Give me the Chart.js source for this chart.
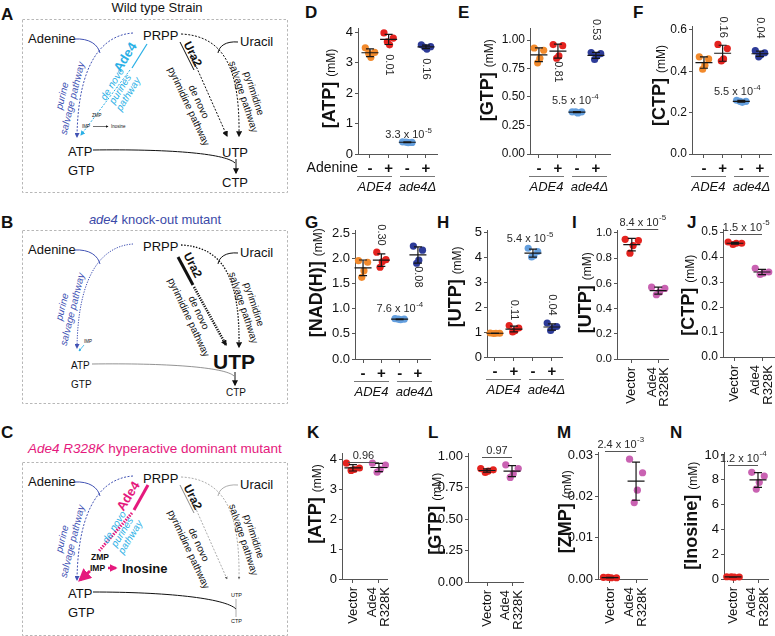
<!DOCTYPE html>
<html>
<head>
<meta charset="utf-8">
<title>Ade4 nucleotide panels</title>
<script src="https://cdn.jsdelivr.net/npm/chart.js@4.4.1/dist/chart.umd.min.js"></script>
<style>
  html, body { margin: 0; padding: 0; background: #fff; }
  body { position: relative; width: 775px; height: 636px; overflow: hidden; font-family: "Liberation Sans", Arial, sans-serif; }
  canvas { position: absolute; }
  #schem { position: absolute; left: 0; top: 0; }
</style>
</head>
<body>
<svg id="schem" width="775" height="636" xmlns="http://www.w3.org/2000/svg"></svg>
<script>
const FF = '"Liberation Sans", Arial, Helvetica, sans-serif';
Chart.defaults.font.family = FF;

// ---------------- data ----------------
const signs = ['-', '+', '-', '+'];
const pairCats = ['Vector', ['Ade4', 'R328K']];
const strainGroups = ['ADE4', 'ade4Δ'];

const ticksD = ['0', '1', '2', '3', '4'];
const ticksE = ['0.00', '0.25', '0.50', '0.75', '1.00'];
const ticksF = ['0.0', '0.2', '0.4', '0.6'];
const ticksG = ['0.0', '0.5', '1.0', '1.5', '2.0', '2.5'];
const ticksH = ['0', '1', '2', '3', '4', '5'];
const ticksI = ['0.0', '0.2', '0.4', '0.6', '0.8', '1.0'];
const ticksJ = ['0.0', '0.1', '0.2', '0.3', '0.4', '0.5'];
const ticksK = ['0', '1', '2', '3', '4'];
const ticksL = ['0.00', '0.25', '0.50', '0.75', '1.00'];
const ticksM = ['0.00', '0.01', '0.02', '0.03'];
const ticksN = ['0', '2', '4', '6', '8', '10'];

// mM, 4 replicates per group
const atpD = [[3.48, 3.33, 3.17, 3.30], [3.97, 3.80, 3.58, 3.68], [0.40, 0.38, 0.37, 0.39], [3.58, 3.52, 3.44, 3.50]];
const gtpE = [[0.93, 0.91, 0.84, 0.80], [0.96, 0.95, 0.86, 0.84], [0.37, 0.37, 0.36, 0.37], [0.89, 0.88, 0.86, 0.83]];
const ctpF = [[0.47, 0.46, 0.43, 0.41], [0.53, 0.51, 0.46, 0.45], [0.26, 0.255, 0.25, 0.255], [0.50, 0.49, 0.48, 0.47]];
const nadG = [[1.95, 1.92, 1.75, 1.62], [2.12, 1.97, 1.93, 1.82], [0.80, 0.79, 0.78, 0.79], [2.24, 2.16, 1.96, 1.90]];
const utpH = [[0.96, 0.95, 0.95, 0.94], [1.26, 1.16, 1.05, 1.00], [4.35, 4.22, 4.05, 4.00], [1.36, 1.22, 1.16, 1.06]];
const utpI = [[0.95, 0.94, 0.90, 0.84], [0.57, 0.56, 0.53, 0.51]];
const ctpJ = [[0.46, 0.455, 0.455, 0.45], [0.355, 0.34, 0.335, 0.33]];
const atpK = [[3.86, 3.70, 3.65, 3.62], [3.86, 3.80, 3.65, 3.56]];
const gtpL = [[0.90, 0.89, 0.88, 0.87], [0.93, 0.90, 0.86, 0.83]];
const zmpM = [[0.0004, 0.0003, 0.0003, 0.0004], [0.029, 0.0257, 0.0215, 0.0185]];
const inoN = [[0.18, 0.16, 0.15, 0.17], [8.6, 8.3, 7.8, 7.25]];

const pD = ['0.01', '0.16', '3.3 x 10^-5'];
const pE = ['0.81', '0.53', '5.5 x 10^-4'];
const pF = ['0.16', '0.04', '5.5 x 10^-4'];
const pG = ['0.30', '0.08', '7.6 x 10^-4'];
const pH = ['0.11', '0.04', '5.4 x 10^-5'];
const pI = '8.4 x 10^-5', pJ = '1.5 x 10^-5', pK = '0.96', pL = '0.97', pM = '2.4 x 10^-3', pN = '1.2 x 10^-4';

// ---------------- styles ----------------
const wtCols = ['#f28a2c', '#e4231f', '#649fde', '#2d3b98'];
const pairCols = ['#e4231f', '#c962b2'];
const jitter = [-0.25, 0.25, 0.05, -0.07];

// panel layout (pixel anchors measured on the figure)
const panels = [
  { values: atpD, cats: signs, colors: wtCols, yTicks: ticksD, title: '[ATP]', ax: 358, ex: 437, yTickPx: 32, yBot: 154, ymax: 4.1, xmin: -0.64, xmax: 3.59, tx: 23, ty: -3, tf: 13,
    groups: true, adenine: true, notes: [{ t: pD[0], x: 1, y: 2.92, r: 1 }, { t: pD[1], x: 3, y: 2.79, r: 1 }, { t: pD[2], x: 2.06, y: 0.62 }] },
  { values: gtpE, cats: signs, colors: wtCols, yTicks: ticksE, title: '[GTP]', ax: 530, ex: 610, yTickPx: 40, yBot: 154, ymax: 1.1, xmin: -0.47, xmax: 3.74, tx: 37, ty: -11, tf: 12,
    groups: true, notes: [{ t: pE[0], x: 1, y: 0.72, r: 1 }, { t: pE[1], x: 3, y: 1.09, r: 1 }, { t: pE[2], x: 1.9, y: 0.465 }] },
  { values: ctpF, cats: signs, colors: wtCols, yTicks: ticksF, title: '[CTP]', ax: 692, ex: 771, yTickPx: 30, yBot: 154, ymax: 0.615, xmin: -0.64, xmax: 3.59, tx: 27, ty: -5, tf: 12,
    groups: true, notes: [{ t: pF[0], x: 1, y: 0.614, r: 1 }, { t: pF[1], x: 3, y: 0.61, r: 1 }, { t: pF[2], x: 1.77, y: 0.30 }] },
  { values: nadG, cats: signs, colors: wtCols, yTicks: ticksG, title: '[NAD(H)]', ax: 355, ex: 430, yTickPx: 233, yBot: 359, ymax: 2.55, xmin: -0.44, xmax: 3.66, tx: 33, ty: -12, tf: 13,
    groups: true, notes: [{ t: pG[0], x: 1, y: 2.46, r: 1 }, { t: pG[1], x: 3, y: 1.63, r: 1 }, { t: pG[2], x: 2.0, y: 0.99 }] },
  { values: utpH, cats: signs, colors: wtCols, yTicks: ticksH, title: '[UTP]', ax: 487, ex: 562, yTickPx: 232, yBot: 357, ymax: 5.05, xmin: -0.42, xmax: 3.53, tx: 26, ty: -7, tf: 13,
    groups: true, notes: [{ t: pH[0], x: 1, y: 1.88, r: 1 }, { t: pH[1], x: 3, y: 2.08, r: 1 }, { t: pH[2], x: 1.84, y: 4.72 }] },
  { values: utpI, cats: pairCats, colors: pairCols, yTicks: ticksI, title: '[UTP]', ax: 617, ex: 668, yTickPx: 233, yBot: 359, ymax: 1.02, xmin: -0.56, xmax: 1.37, tx: 26, ty: -2, tf: 11.5,
    bracket: { t: pI, y: 1.03 } },
  { values: ctpJ, cats: pairCats, colors: pairCols, yTicks: ticksJ, title: '[CTP]', ax: 723, ex: 775, yTickPx: 232, yBot: 357, ymax: 0.51, xmin: -0.44, xmax: 1.48, tx: 29, ty: 2, tf: 12,
    bracket: { t: pJ, y: 0.492 } },
  { values: atpK, cats: pairCats, colors: pairCols, yTicks: ticksK, title: '[ATP]', ax: 342, ex: 387, yTickPx: 459, yBot: 579, ymax: 4.2, xmin: -0.42, xmax: 1.31, tx: 21, ty: -12, tf: 13,
    bracket: { t: pK, y: 3.9 } },
  { values: gtpL, cats: pairCats, colors: pairCols, yTicks: ticksL, title: '[GTP]', ax: 468, ex: 523, yTickPx: 456, yBot: 582, ymax: 1.02, xmin: -0.76, xmax: 1.44, tx: 27, ty: -4, tf: 13,
    bracket: { t: pL, y: 0.99 } },
  { values: zmpM, cats: pairCats, colors: pairCols, yTicks: ticksM, title: '[ZMP]', ax: 598, ex: 647, yTickPx: 455, yBot: 579, ymax: 0.0306, xmin: -0.46, xmax: 1.42, tx: 27, ty: -4, tf: 13,
    bracket: { t: pM, y: 0.031 } },
  { values: inoN, cats: pairCats, colors: pairCols, yTicks: ticksN, title: '[Inosine]', ax: 724, ex: 768, yTickPx: 455, yBot: 579, ymax: 10.2, xmin: -0.36, xmax: 1.4, tx: 27, ty: 0, tf: 13,
    bracket: { t: pN, y: 9.2 } }
];

// text with a superscript part after '^', centred on (x, y)
function sci(ctx, s, x, y, size) {
  const parts = s.split('^');
  ctx.font = size + 'px ' + FF;
  const wb = ctx.measureText(parts[0]).width;
  let we = 0;
  if (parts[1]) { ctx.font = (size * 0.72) + 'px ' + FF; we = ctx.measureText(parts[1]).width; }
  const x0 = x - (wb + we) / 2;
  ctx.textAlign = 'left'; ctx.textBaseline = 'middle'; ctx.fillStyle = '#2a2a2a';
  ctx.font = size + 'px ' + FF;
  ctx.fillText(parts[0], x0, y);
  if (parts[1]) { ctx.font = (size * 0.72) + 'px ' + FF; ctx.fillText(parts[1], x0 + wb + 0.5, y - size * 0.4); }
}

function makePanel(p) {
  const padL = 70, padT = 34, padB = 72, padR = 6;
  const lastTick = parseFloat(p.yTicks[p.yTicks.length - 1]);
  const yTop = p.yBot - (p.yBot - p.yTickPx) * p.ymax / lastTick;
  const left = p.ax - padL, top = Math.round(yTop - padT);
  const W = p.ex + padR - left, H = p.yBot + padB - top;
  const cv = document.createElement('canvas');
  cv.width = W; cv.height = H;
  cv.style.left = left + 'px'; cv.style.top = top + 'px';
  cv.style.width = W + 'px'; cv.style.height = H + 'px';
  document.body.appendChild(cv);
  const rot = !p.groups;

  const deco = {
    id: 'deco',
    afterDatasetsDraw(chart) {
      const ctx = chart.ctx, xs = chart.scales.x, ys = chart.scales.y, ca = chart.chartArea;
      ctx.save();
      // mean +/- SD
      p.values.forEach((vals, i) => {
        const m = vals.reduce((a, b) => a + b, 0) / vals.length;
        const sd = Math.sqrt(vals.reduce((a, b) => a + (b - m) * (b - m), 0) / (vals.length - 1));
        const cx = xs.getPixelForValue(i);
        const ym = ys.getPixelForValue(m), y1 = ys.getPixelForValue(m + sd), y0 = ys.getPixelForValue(Math.max(0, m - sd));
        ctx.strokeStyle = '#161616'; ctx.lineWidth = 1.2;
        ctx.beginPath();
        ctx.moveTo(cx - 8.5, ym); ctx.lineTo(cx + 8.5, ym);
        ctx.moveTo(cx, y1); ctx.lineTo(cx, y0);
        ctx.moveTo(cx - 4, y1); ctx.lineTo(cx + 4, y1);
        ctx.moveTo(cx - 4, y0); ctx.lineTo(cx + 4, y0);
        ctx.stroke();
      });
      // y title: bold name + small unit
      ctx.save();
      ctx.translate(ca.left - p.tx, (ca.top + ca.bottom) / 2 + p.ty);
      ctx.rotate(-Math.PI / 2);
      ctx.font = 'bold 18px ' + FF; const w1 = ctx.measureText(p.title).width;
      ctx.font = '12px ' + FF; const w2 = ctx.measureText('(mM)').width;
      const gap = 5, x0 = -(w1 + gap + w2) / 2;
      ctx.textAlign = 'left'; ctx.textBaseline = 'alphabetic'; ctx.fillStyle = '#111';
      ctx.font = 'bold 18px ' + FF; ctx.fillText(p.title, x0, 0);
      ctx.font = '12px ' + FF; ctx.fillText('(mM)', x0 + w1 + gap, 0);
      ctx.restore();
      // p-value notes
      (p.notes || []).forEach(n => {
        ctx.save();
        ctx.translate(xs.getPixelForValue(n.x), ys.getPixelForValue(n.y));
        if (n.r) ctx.rotate(Math.PI / 2);
        sci(ctx, n.t, 0, 0, 11);
        ctx.restore();
      });
      // strain group underlines
      if (p.groups) {
        const yb = ca.bottom;
        ctx.strokeStyle = '#777'; ctx.lineWidth = 1;
        [[-1, 34], [42, 77]].forEach(([a, b], g) => {
          ctx.beginPath(); ctx.moveTo(ca.left + a, yb + 22.5); ctx.lineTo(ca.left + b, yb + 22.5); ctx.stroke();
          ctx.font = 'italic 13px ' + FF; ctx.textAlign = 'center'; ctx.textBaseline = 'middle'; ctx.fillStyle = '#111';
          ctx.fillText(strainGroups[g], ca.left + (a + b) / 2, yb + 33);
        });
        if (p.adenine) {
          ctx.font = '14px ' + FF; ctx.textAlign = 'right'; ctx.textBaseline = 'middle';
          ctx.fillText('Adenine', ca.left, yb + 14);
        }
      }
      // rotated category labels, ending just under the axis
      if (rot) {
        ctx.font = '13px ' + FF; ctx.fillStyle = '#111';
        p.cats.forEach((c, i) => {
          const lines = Array.isArray(c) ? c : [c];
          ctx.save();
          ctx.translate(xs.getPixelForValue(i), ca.bottom + 8);
          ctx.rotate(-Math.PI / 2);
          ctx.textAlign = 'right'; ctx.textBaseline = 'middle';
          lines.forEach((l, k) => ctx.fillText(l, 0, (k - (lines.length - 1) / 2) * 12.5));
          ctx.restore();
        });
      }
      // comparison bracket
      if (p.bracket) {
        const yl = Math.round(ys.getPixelForValue(p.bracket.y)) + 0.5;
        const xa = xs.getPixelForValue(0) - 5, xb = xs.getPixelForValue(1);
        ctx.strokeStyle = '#555'; ctx.lineWidth = 1;
        ctx.beginPath(); ctx.moveTo(xa, yl); ctx.lineTo(xb, yl); ctx.stroke();
        sci(ctx, p.bracket.t, (xa + xb) / 2, yl - 7, 11);
      }
      ctx.restore();
    }
  };

  new Chart(cv, {
    type: 'scatter',
    data: {
      datasets: p.values.map((vals, i) => ({
        data: vals.map((v, j) => ({ x: i + jitter[j], y: v })),
        pointRadius: 3.6,
        pointBackgroundColor: p.colors[i],
        pointBorderColor: p.colors[i],
        pointBorderWidth: 0,
        clip: false
      }))
    },
    options: {
      responsive: false,
      animation: false,
      devicePixelRatio: 1,
      layout: { padding: { top: yTop - top, right: W - (p.ex - left), bottom: 0, left: 0 } },
      plugins: { legend: { display: false }, tooltip: { enabled: false } },
      scales: {
        x: {
          type: 'linear', min: p.xmin, max: p.xmax,
          afterFit: s => { s.height = H - (p.yBot - top); },
          afterBuildTicks: s => { s.ticks = p.cats.map((c, i) => ({ value: i })); },
          border: { display: true, color: '#555', width: 1 },
          grid: { display: true, drawOnChartArea: false, drawTicks: true, tickLength: 4, color: '#555' },
          ticks: {
            display: !rot, autoSkip: false, padding: 2, color: '#111', maxRotation: 0, minRotation: 0,
            font: { size: 15, weight: 'bold' },
            callback: (v, i) => p.cats[i]
          }
        },
        y: {
          type: 'linear', min: 0, max: p.ymax,
          afterFit: s => { s.width = padL; },
          afterBuildTicks: s => { s.ticks = p.yTicks.map(l => ({ value: parseFloat(l) })); },
          border: { display: true, color: '#555', width: 1 },
          grid: { display: true, drawOnChartArea: false, drawTicks: true, tickLength: 3, color: '#555' },
          ticks: { padding: 2, color: '#111', font: { size: p.tf }, callback: (v, i) => p.yTicks[i] }
        }
      }
    },
    plugins: [deco]
  });
}
panels.forEach(makePanel);

// ---------------- pathway schematics (A, B, C) ----------------
const BLUE = '#4253b4', CYAN = '#2bb0e6', MAG = '#e5197d', GRAY = '#8a8a8a';

function txt(x, y, s, size, o = {}) {
  return `<text x="${x}" y="${y}" font-size="${size}" fill="${o.c || '#111'}"${o.b ? ' font-weight="bold"' : ''}${o.i ? ' font-style="italic"' : ''} text-anchor="${o.a || 'start'}">${s}</text>`;
}
function blk(x, y, rot, lines, size, o, lh) {
  let s = `<g transform="translate(${x},${y}) rotate(${rot})">`;
  lines.forEach((l, i) => {
    s += txt(0, ((i - (lines.length - 1) / 2) * lh + size * 0.35).toFixed(1), l, size, Object.assign({ a: 'middle' }, o));
  });
  return s + '</g>';
}
function pth(d, c, w, dash, mk) {
  return `<path d="${d}" fill="none" stroke="${c}" stroke-width="${w}"${dash ? ` stroke-dasharray="${dash}"` : ''}${mk ? ` marker-end="url(#${mk})"` : ''}/>`;
}
function marker(id, c, sz) {
  return `<marker id="${id}" markerWidth="${sz}" markerHeight="${sz}" refX="${sz * 0.8}" refY="${sz / 2}" orient="auto" markerUnits="userSpaceOnUse"><path d="M0,0 L${sz},${sz / 2} L0,${sz} z" fill="${c}"/></marker>`;
}

function schematic(v, dy) {
  const A = v === 'A', B = v === 'B', C = v === 'C';
  let s = `<g transform="translate(0,${dy})">`;
  s += `<rect x="22.5" y="19.5" width="265" height="173" fill="none" stroke="#a5a5a5" stroke-width="0.8" stroke-dasharray="2.5,2"/>`;
  s += txt(28, 43, 'Adenine', 13) + txt(143, 40, 'PRPP', 13) + txt(240, 46, 'Uracil', 13);

  // purine salvage
  s += pth('M74,39 C90,38 98,45 100,53', BLUE, 1);
  s += pth('M133,33 C103,35 78,62 77,137', BLUE, 1, B ? '1.3,1.3' : '2,1.5', 'ab');
  s += blk(67, 97, -76, ['purine', 'salvage pathway'], 10, { c: BLUE, i: 1 }, 10.5);

  // de novo purines
  if (A) {
    s += pth('M147,44 L132,68', CYAN, 1.3);
    s += pth('M130,70 L81,135', CYAN, 1, '2,1.5', 'ac');
    s += blk(125, 57, -58, ['Ade4'], 13, { c: CYAN, b: 1 }, 0);
    s += blk(120, 89, -58, ['de novo', 'purines', 'pathway'], 10, { c: CYAN, i: 1 }, 9.5);
    s += txt(92, 117, 'ZMP', 4.5) + txt(82, 128, 'IMP', 4.5) + txt(111, 128, 'Inosine', 4.5);
    s += pth('M93,126.5 L108,126.5', '#111', 0.6, null, 'aks');
  }
  if (B) {
    s += txt(84, 132, 'IMP', 4.5);
    s += pth('M84,134 L79,140', CYAN, 0.8, null, 'acs');
  }
  if (C) {
    s += pth('M148,42 L134,67', MAG, 3);
    s += pth('M132,70 L99,108', MAG, 3, '1.5,1.2');
    s += blk(128, 53, -58, ['Ade4'], 13, { c: MAG, b: 1 }, 0);
    s += blk(122, 89, -58, ['de novo', 'purines', 'pathway'], 10, { c: CYAN, i: 1 }, 9.5);
    s += txt(91, 117, 'ZMP', 8.5, { b: 1 }) + txt(90, 128, 'IMP', 8.5, { b: 1 });
    s += pth('M108,125 L116,125', MAG, 2.5, null, 'am');
    s += txt(122, 130, 'Inosine', 13, { b: 1 });
    s += pth('M90,128 L80,137', MAG, 3, null, 'amb');
  }

  // de novo pyrimidines (Ura2)
  const pyrCol = C ? GRAY : '#111';
  s += blk(193, 54, 63, ['Ura2'], 12, { b: 1 }, 0);
  if (B) {
    s += pth('M178,46 L193,74', '#111', 3);
    s += pth('M194,76 L226,134', '#111', 2.6, '1.2,1.2', 'ak');
  } else {
    s += pth('M180,42 L194,70', pyrCol, 1);
    s += pth('M188,48 L227,136', pyrCol, C ? 0.7 : 1, '2,1.5', C ? 'ags' : 'ak');
  }
  s += blk(194, 104, 65, ['de novo', 'pyrimidine pathway'], 10, { i: 0 }, 11);

  // pyrimidine salvage
  s += pth('M181,34 C225,36 240,70 239,136', pyrCol, C ? 0.7 : (B ? 1.3 : 1), B ? '1.5,1.5' : '2,1.5', C ? 'ags' : 'ak');
  s += pth('M238,42 C226,41 219,46 218,53', pyrCol, C ? 0.7 : 1);
  s += blk(249, 95, 72, ['pyrimidine', 'salvage pathway'], 10, {}, 11);

  // nucleotides
  if (A) {
    s += txt(68, 156, 'ATP', 13) + txt(68, 175, 'GTP', 13) + txt(222, 157, 'UTP', 13) + txt(222, 187, 'CTP', 13);
    s += pth('M93,150 C165,149 225,153 235,163', '#111', 1);
    s += pth('M236,159 L236,173', '#111', 1, null, 'ak');
  }
  if (B) {
    s += txt(71, 158, 'ATP', 10) + txt(71, 177, 'GTP', 10) + txt(213, 158, 'UTP', 21, { b: 1 }) + txt(226, 185, 'CTP', 10);
    s += pth('M92,153 C165,152 225,156 234,165', '#777', 0.8);
    s += pth('M235,161 L235,174', '#111', 1, null, 'ak');
  }
  if (C) {
    s += txt(68, 155, 'ATP', 13) + txt(68, 174, 'GTP', 13) + txt(231, 154, 'UTP', 5.5) + txt(231, 180, 'CTP', 5.5);
    s += pth('M93,149 C165,149 225,155 236,166', '#111', 1);
    s += pth('M236,156 L236,174', '#777', 0.6);
  }
  return s + '</g>';
}

let S = '<defs>' + marker('ab', BLUE, 5) + marker('ac', CYAN, 5) + marker('acs', CYAN, 3) + marker('ak', '#111', 6) +
  marker('aks', '#111', 2.5) + marker('ags', '#666', 3) + marker('am', MAG, 8) + marker('amb', MAG, 13) + '</defs>';
S += `<g font-family='${FF}'>`;
S += schematic('A', 0) + schematic('B', 211) + schematic('C', 443);
S += txt(157, 12, 'Wild type Strain', 13, { a: 'middle' });
S += `<text x="155" y="224" font-size="13" fill="#3b4aa8" text-anchor="middle"><tspan font-style="italic">ade4</tspan> knock-out mutant</text>`;
S += `<text x="28" y="453" font-size="13.5" fill="${MAG}"><tspan font-style="italic">Ade4 R328K</tspan> hyperactive dominant mutant</text>`;
[['A', 1, 20], ['B', 1, 228], ['C', 1, 438], ['D', 305, 18], ['E', 458, 18], ['F', 633, 18], ['G', 305, 228], ['H', 437, 228],
 ['I', 572, 228], ['J', 687, 228], ['K', 307, 438], ['L', 428, 438], ['M', 557, 438], ['N', 670, 438]].forEach(([l, x, y]) => {
  S += txt(x, y, l, 17, { b: 1 });
});
S += '</g>';
document.getElementById('schem').innerHTML = S;
</script>
</body>
</html>
